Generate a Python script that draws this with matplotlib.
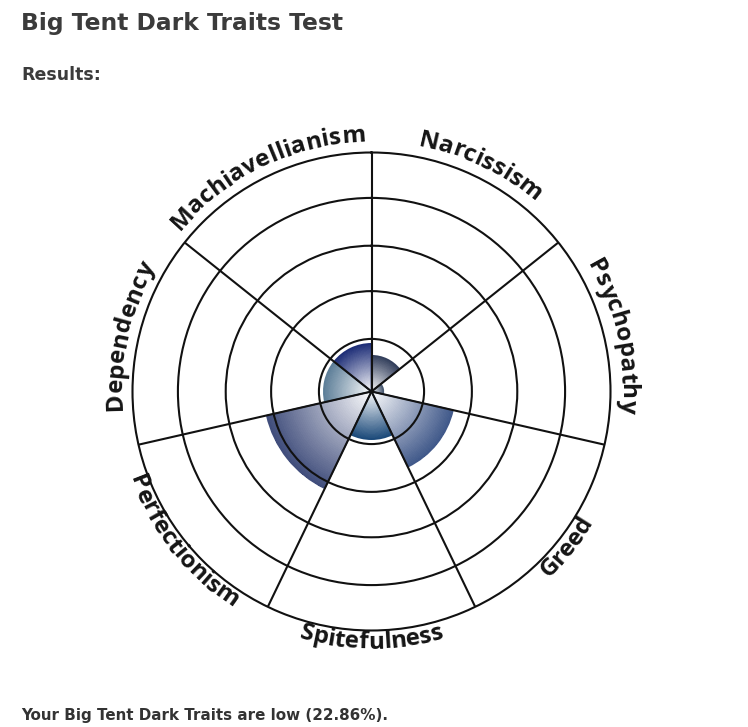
import numpy as np
import matplotlib
matplotlib.use("Agg")
import matplotlib.pyplot as plt
from matplotlib.colors import LinearSegmentedColormap
from matplotlib.font_manager import FontProperties

# ---------------- data ----------------
categories = ["Narcissism", "Psychopathy", "Greed", "Spitefulness",
              "Perfectionism", "Dependency", "Machiavellianism"]   # clockwise from top
scores = [15, 5, 35, 20, 45, 20, 20]          # percent (outer ring = 100)
ring_levels = [22, 42, 61, 81]                 # inner rings (outer = 100)
overall = 22.86
title_text = "Big Tent Dark Traits Test"
subtitle_text = "Results:"
summary_text = f"Your Big Tent Dark Traits are low ({overall:.2f}%)."

# ---------------- styles ----------------
edge_colors = ["#333f5c", "#4a5a72", "#41598a", "#1c4a7a",
               "#414e7c", "#5d7e98", "#1f2f78"]
W, H, DPI = 748, 727, 100
cx, cy, R = 371.5, 391.5, 239.0     # pixel centre / radius of the wheel

fig = plt.figure(figsize=(W / DPI, H / DPI), dpi=DPI)
fig.patch.set_facecolor("white")
ax = fig.add_axes([(cx - R) / W, 1 - (cy + R) / H, 2 * R / W, 2 * R / H],
                  projection="polar")
ax.set_theta_zero_location("N")
ax.set_theta_direction(-1)
ax.set_ylim(0, 100)

n = len(categories)
width = 2 * np.pi / n
for i, (v, col) in enumerate(zip(scores, edge_colors)):
    th = np.linspace(i * width, (i + 1) * width, 80)
    rr = np.linspace(0, v, 60)
    T, RR = np.meshgrid(th, rr)
    mid = (rr[:-1] + rr[1:]) / 2 / v
    Z = np.repeat((mid ** 0.95)[:, None], len(th) - 1, axis=1)
    cmap = LinearSegmentedColormap.from_list(f"g{i}", ["#ffffff", col])
    ax.pcolormesh(T, RR, Z, cmap=cmap, vmin=0, vmax=1, shading="flat",
                  zorder=1, edgecolors="none", antialiased=False)
    # smooth outer rim of the wedge
    ax.bar(i * width, v, width=width, align="edge", bottom=0,
           facecolor="none", edgecolor=col, lw=1.0, zorder=1.2)

ax.set_xticks(np.arange(n) * width)
ax.set_xticklabels([])
ax.set_yticks(ring_levels)
ax.set_yticklabels([])
ax.grid(True, color="#111111", lw=1.5)
ax.set_axisbelow(False)
ax.spines["polar"].set_linewidth(1.5)
ax.spines["polar"].set_color("#111111")
ax.tick_params(length=0)
ax.set_ylim(0, 100)

# ---------------- curved labels ----------------
fig.canvas.draw()
renderer = fig.canvas.get_renderer()
lab_fp = FontProperties(family="Open Sans", weight="bold", size=17.5)
spacing = 0.0  # extra px between letters


def tw(s, fp=lab_fp):
    if not s:
        return 0.0
    return renderer.get_text_width_height_descent(s, fp, ismath=False)[0]


for i, lab in enumerate(categories):
    comp = (i + 0.5) * width
    phi0 = np.pi / 2 - comp
    bottom = np.sin(phi0) < 0
    rb = 257.0 if bottom else 250.0
    widths = [tw(lab[:k]) + spacing * k for k in range(len(lab) + 1)]
    total = widths[-1] - spacing
    for k, ch in enumerate(lab):
        s = (widths[k] + widths[k + 1] - spacing) / 2 - total / 2
        if bottom:
            phi = phi0 + s / rb
            rot = np.degrees(phi) + 90
        else:
            phi = phi0 - s / rb
            rot = np.degrees(phi) - 90
        x = cx + rb * np.cos(phi)
        y = (H - cy) + rb * np.sin(phi)
        fig.text(x / W, y / H, ch, fontproperties=lab_fp, color="#151515",
                 rotation=rot, rotation_mode="anchor",
                 ha="center", va="baseline")

# ---------------- headings ----------------
def fitted(text, target_px, base=12):
    fp = FontProperties(family="DejaVu Sans", weight="bold", size=base)
    w = tw(text, fp)
    return base * target_px / w

fig.text(21 / W, 1 - 30 / H, title_text, family="DejaVu Sans", weight="bold",
         size=fitted(title_text, 320), color="#3b3b3b", ha="left", va="baseline")
fig.text(21 / W, 1 - 80 / H, subtitle_text, family="DejaVu Sans", weight="bold",
         size=fitted(subtitle_text, 79), color="#3b3b3b", ha="left", va="baseline")
fig.text(21 / W, 1 - 720 / H, summary_text, family="DejaVu Sans", weight="bold",
         size=fitted(summary_text, 367), color="#333333", ha="left", va="baseline")

fig.savefig("out.png", dpi=DPI, facecolor="white")
